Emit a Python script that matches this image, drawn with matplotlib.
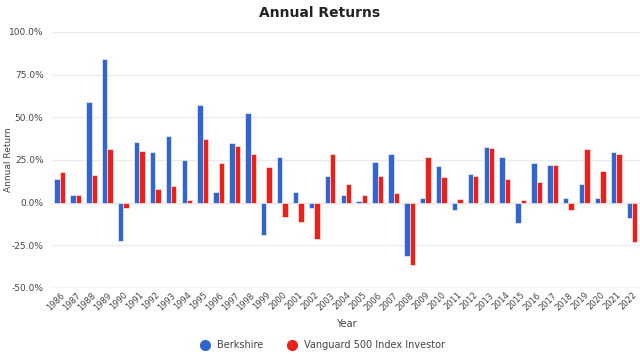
import matplotlib.pyplot as plt
import numpy as np
from matplotlib.ticker import FuncFormatter
from matplotlib.lines import Line2D

years = list(range(1986, 2023))
berkshire = [14.1, 4.7, 59.2, 84.4, -22.3, 35.5, 29.9, 38.9, 24.8, 57.4,
             6.4, 35.2, 52.3, -19.1, 26.6, 6.4, -2.9, 15.8, 4.3, 0.8,
             24.0, 28.7, -31.2, 2.9, 21.5, -4.3, 16.8, 32.6, 27.0, -11.7,
             23.4, 21.9, 2.8, 11.0, 2.4, 29.6, -8.8]
vanguard = [18.0, 4.7, 16.4, 31.2, -3.1, 30.5, 7.8, 10.0, 1.3, 37.3,
            23.2, 33.4, 28.7, 21.1, -8.6, -11.5, -21.3, 28.7, 10.7, 4.7,
            15.8, 5.5, -36.3, 26.6, 15.0, 2.1, 15.8, 32.2, 13.7, 1.3,
            11.9, 21.8, -4.5, 31.4, 18.3, 28.7, -23.0]

blue = '#3366cc'
red = '#e8221b'

fig = plt.figure(figsize=(6.4, 3.55), dpi=100)
ax = fig.add_axes([0.081, 0.189, 0.919, 0.721])

x = np.arange(len(years))
w = 0.34
ax.bar(x - w / 2, berkshire, width=w, color=blue, edgecolor='white', linewidth=0.4, zorder=3)
ax.bar(x + w / 2, vanguard, width=w, color=red, edgecolor='white', linewidth=0.4, zorder=3)

ax.set_xlim(-0.5, len(years) - 0.5)
ax.set_ylim(-50, 100)
ax.set_yticks([-50, -25, 0, 25, 50, 75, 100])
ax.yaxis.set_major_formatter(FuncFormatter(lambda v, p: f'{v:.1f}%'))
ax.grid(axis='y', color='#ebebeb', linewidth=1, zorder=0)
ax.axhline(-50, color='#cccccc', linewidth=1, zorder=1)
ax.axhline(0, color='#dddddd', linewidth=1, zorder=1)

ax.set_xticks(x)
ax.set_xticklabels([str(y) for y in years], rotation=45, ha='right',
                   rotation_mode='anchor', fontsize=6, color='#444444')
ax.tick_params(axis='y', labelsize=6.5, labelcolor='#444444', length=0, pad=6)
ax.tick_params(axis='x', length=0, pad=2)
for s in ax.spines.values():
    s.set_visible(False)

ax.set_ylabel('Annual Return', fontsize=6.5, color='#444444')
ax.yaxis.set_label_coords(-0.066, 0.5)
ax.set_xlabel('Year', fontsize=7, color='#444444', labelpad=5)
fig.text(0.5, 0.963, 'Annual Returns', ha='center', va='center',
         fontsize=10, fontweight='bold', color='#222222')

handles = [Line2D([], [], marker='o', color='none', markerfacecolor=blue,
                  markeredgecolor=blue, markersize=7, label='Berkshire'),
           Line2D([], [], marker='o', color='none', markerfacecolor=red,
                  markeredgecolor=red, markersize=7, label='Vanguard 500 Index Investor')]
fig.legend(handles=handles, loc='center', bbox_to_anchor=(0.5, 0.028), ncol=2,
           frameon=False, fontsize=7, handletextpad=0.2, columnspacing=2,
           labelcolor='#444444')

fig.savefig('out.png', dpi=100)
